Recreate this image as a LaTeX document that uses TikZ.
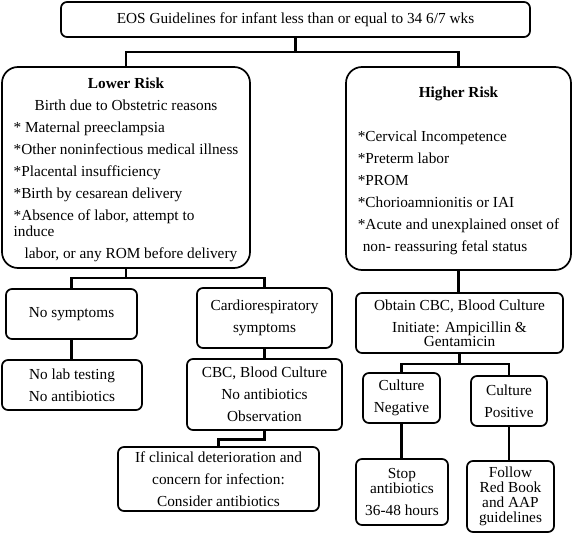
\documentclass[tikz,border=0pt]{standalone}
\usepackage{fontspec}
\setmainfont{Liberation Serif}
\newcommand{\boxfnt}{\fontsize{15.3bp}{22bp}\selectfont}
\newlength\wlow
\newlength\whigh
\begin{document}
\settowidth\wlow{\boxfnt *Other noninfectious medical illness}%
\settowidth\whigh{\boxfnt *Acute and unexplained onset of}%
\begin{tikzpicture}[x=1bp,y=-1bp,
  every node/.style={font=\boxfnt},
  box/.style={draw, line width=1.7bp, rounded corners=6bp, align=center, inner sep=0pt},
  bigbox/.style={draw, line width=1.7bp, rounded corners=16bp, align=left, inner sep=0pt},
  conn/.style={line width=2.8bp}]
\useasboundingbox (0,0) rectangle (574,533);

\node[box, minimum width=469bp, minimum height=35bp] (title) at (295.5,19.5)
  {EOS Guidelines for infant less than or equal to 34 6/7 wks};

\node[bigbox, minimum width=248bp, minimum height=201bp] (low) at (126,167.5)
  {\rule{0pt}{15.5bp}\makebox[\wlow]{\textbf{Lower Risk}}\\
   \makebox[\wlow]{Birth due to Obstetric reasons}\\
   * Maternal preeclampsia\\
   *Other noninfectious medical illness\\
   *Placental insufficiency\\
   *Birth by cesarean delivery\\
   *Absence of labor, attempt to\\[-6bp]
   induce\\
   \hspace*{11bp}labor, or any ROM before delivery};

\node[bigbox, minimum width=225bp, minimum height=203bp] (high) at (458.5,168.5)
  {\rule{0pt}{15bp}\makebox[\whigh]{\textbf{Higher Risk}}\\[22bp]
   *Cervical Incompetence\\
   *Preterm labor\\
   *PROM\\
   *Chorioamnionitis or IAI\\
   *Acute and unexplained onset of\\
   \hspace*{5bp}non- reassuring fetal status};

\node[box, minimum width=131bp, minimum height=50bp] (nosym) at (71.5,314) {No symptoms};
\node[box, minimum width=140bp, minimum height=50bp] (nolab) at (72,385) {No lab testing\\No antibiotics};
\node[box, minimum width=135bp, minimum height=60bp] (cardio) at (264.5,318) {Cardiorespiratory\\symptoms};
\node[box, minimum width=155bp, minimum height=71bp] (cbc) at (264.5,394.5) {CBC, Blood Culture\\No antibiotics\\Observation};
\node[box, minimum width=201bp, minimum height=64bp] (ifclin) at (218.5,479) {If clinical deterioration and\\concern for infection:\\Consider antibiotics};

\node[box, minimum width=207bp, minimum height=60bp] (obtain) at (459.5,323) {Obtain CBC, Blood Culture\\Initiate: Ampicillin \&\\[-8bp]Gentamicin};
\node[box, minimum width=77bp, minimum height=50bp] (cneg) at (401.5,398) {Culture\\Negative};
\node[box, minimum width=76bp, minimum height=50bp] (cpos) at (509,401) {Culture\\Positive};
\node[box, minimum width=92bp, minimum height=66bp] (stop) at (402,492) {Stop\\[-7bp]antibiotics\\36-48 hours};
\node[box, minimum width=87bp, minimum height=71bp] (follow) at (510.5,496.5) {Follow\\[-7bp]Red Book\\[-7bp]and AAP\\[-7bp]guidelines};

\coordinate (j1) at (title.south |- 0,52);
\draw[conn] (title.south) -- (j1);
\draw[conn] (low.north) |- (j1) -| (high.north);

\coordinate (j2) at (low.south |- 0,278);
\draw[conn] (low.south) -- (j2);
\draw[conn] (nosym.north) |- (j2) -| (cardio.north);
\draw[conn] (nosym.south) -- (nosym.south |- nolab.north);
\draw[conn] (cardio.south) -- (cbc.north);
\draw[conn] (cbc.south) -- ++(0,9) -| (ifclin.north);

\draw[conn] (high.south) -- (high.south |- obtain.north);
\coordinate (j3) at (obtain.south |- 0,364);
\draw[conn] (obtain.south) -- (j3);
\draw[conn] (cneg.north) |- (j3) -| (cpos.north);
\draw[conn] (cneg.south) -- (cneg.south |- stop.north);
\draw[conn] (cpos.south) -- (cpos.south |- follow.north);
\end{tikzpicture}
\end{document}
